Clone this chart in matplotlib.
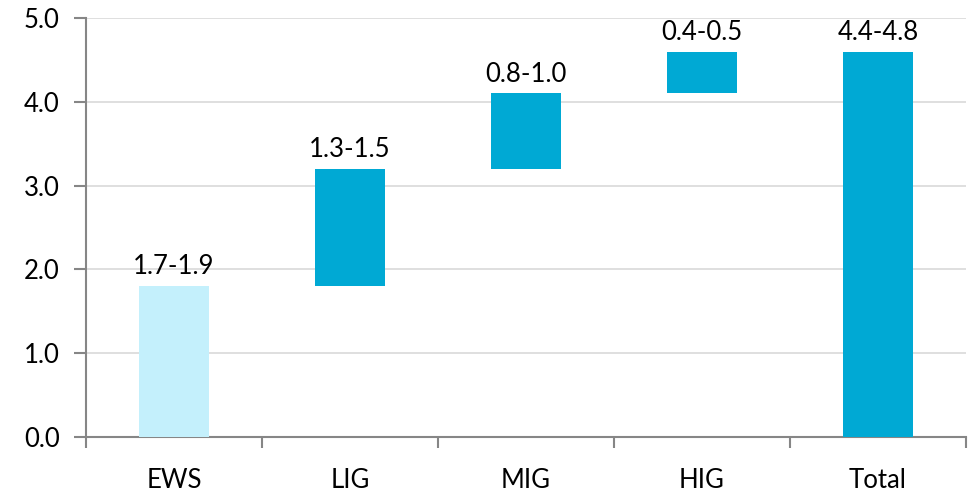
import matplotlib
matplotlib.use("Agg")
import matplotlib.pyplot as plt
from matplotlib.ticker import FixedLocator, NullFormatter

categories = ["EWS", "LIG", "MIG", "HIG", "Total"]
bottoms = [0.0, 1.8, 3.2, 4.1, 0.0]
heights = [1.8, 1.4, 0.9, 0.5, 4.6]
labels = ["1.7-1.9", "1.3-1.5", "0.8-1.0", "0.4-0.5", "4.4-4.8"]
colors = ["#C4F0FC", "#00A9D4", "#00A9D4", "#00A9D4", "#00A9D4"]
yticks = [0.0, 1.0, 2.0, 3.0, 4.0, 5.0]

plt.rcParams['font.family'] = ['Lato', 'DejaVu Sans']
FS = 18.5
fig = plt.figure(figsize=(9.76, 4.95), dpi=100)
ax = fig.add_axes([86/976, 1-437/495, 880/976, (437-18)/495])

x = list(range(len(categories)))
ax.bar(x, heights, bottom=bottoms, width=0.4, color=colors, zorder=3)
for xi, b, h, lab in zip(x, bottoms, heights, labels):
    ax.text(xi, b + h + 0.08, lab, ha='center', va='bottom', fontsize=FS, color='black', zorder=4)

ax.set_xlim(-0.5, len(categories) - 0.5)
ax.set_ylim(0, 5)
ax.set_yticks(yticks)
ax.set_yticklabels([f"{v:.1f}" for v in yticks], fontsize=FS)
ax.yaxis.grid(True, color="#D9D9D9", linewidth=1.2, zorder=0)
ax.set_axisbelow(True)

ax.set_xticks(x)
ax.set_xticklabels(categories, fontsize=FS)
ax.tick_params(axis='x', which='major', length=0, pad=22)
ax.xaxis.set_minor_locator(FixedLocator([i - 0.5 for i in range(len(categories) + 1)]))
ax.xaxis.set_minor_formatter(NullFormatter())
ax.tick_params(axis='x', which='minor', length=8, width=1.5, color="#868686", direction='out')
ax.tick_params(axis='y', length=9, width=1.5, color="#868686", pad=10)

for s in ['top', 'right']:
    ax.spines[s].set_visible(False)
for s in ['left', 'bottom']:
    ax.spines[s].set_color("#868686")
    ax.spines[s].set_linewidth(1.5)

fig.savefig("out.png", dpi=100)
